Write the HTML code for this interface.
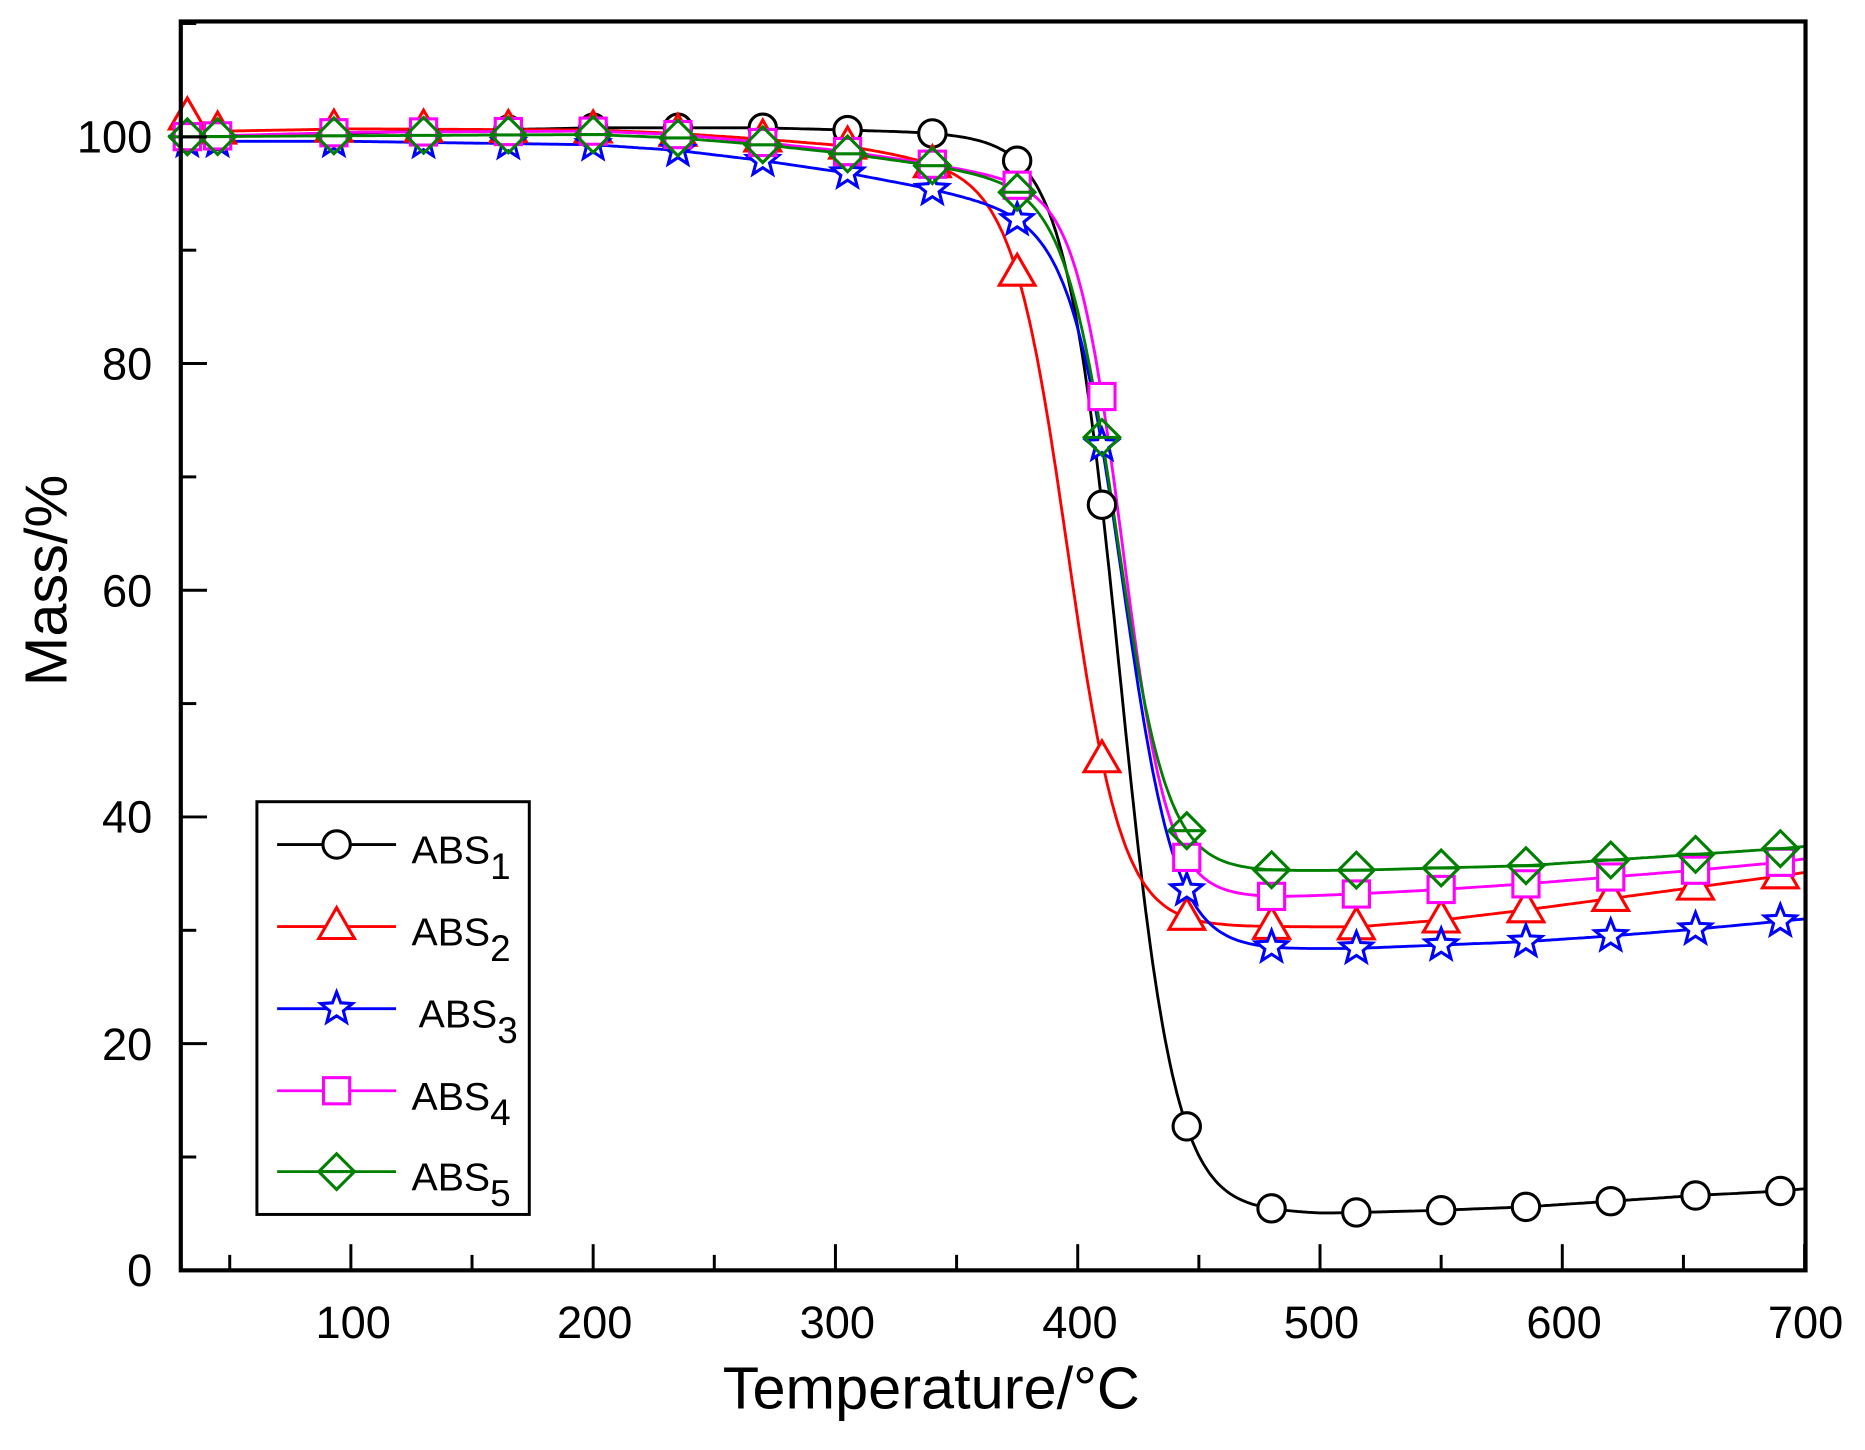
<!DOCTYPE html>
<html><head><meta charset="utf-8"><style>
html,body{margin:0;padding:0;background:#fff;}
svg{display:block;}
text{font-family:"Liberation Sans",Arial,sans-serif;}
</style></head><body>
<svg id="s" width="1865" height="1450" viewBox="0 0 1568 1219" xmlns="http://www.w3.org/2000/svg">
<rect width="1568" height="1219" fill="#fff"/>
<g id="plot"></g>
<g id="axes" fill="none" stroke="#000" stroke-width="3.5"></g>
<g font-size="38" fill="#000">
<text x="128" y="128" text-anchor="end">100</text>
<text x="128" y="319" text-anchor="end">80</text>
<text x="128" y="510" text-anchor="end">60</text>
<text x="128" y="700" text-anchor="end">40</text>
<text x="128" y="891" text-anchor="end">20</text>
<text x="128" y="1081" text-anchor="end">0</text>
<text x="297" y="1125" text-anchor="middle">100</text>
<text x="500" y="1125" text-anchor="middle">200</text>
<text x="704" y="1125" text-anchor="middle">300</text>
<text x="908" y="1125" text-anchor="middle">400</text>
<text x="1111" y="1125" text-anchor="middle">500</text>
<text x="1315" y="1125" text-anchor="middle">600</text>
<text x="1518" y="1125" text-anchor="middle">700</text>
</g>
<text x="783" y="1184" font-size="50" text-anchor="middle">Temperature/°C</text>
<text transform="translate(56,488) rotate(-90)" font-size="50" text-anchor="middle">Mass/%</text>
<g id="legend"></g>
</svg>
<script>
var NS="http://www.w3.org/2000/svg";
function X(t){return 295+(t-100)*2.037;}
function Y(m){return 1068-9.53*m;}
function el(p,n,a){var e=document.createElementNS(NS,n);for(var k in a)e.setAttribute(k,a[k]);p.appendChild(e);return e;}
function interp(tab,t){if(t<=tab[0][0])return tab[0][1];for(var i=1;i<tab.length;i++){if(t<=tab[i][0]){var a=tab[i-1],b=tab[i];return a[1]+(b[1]-a[1])*(t-a[0])/(b[0]-a[0]);}}var a=tab[tab.length-2],b=tab[tab.length-1];return b[1]+(b[1]-a[1])/(b[0]-a[0])*(t-b[0]);}
var series=[
{c:"#000",m:"circle",P:[[30,100],[200,100.8],[270,100.8],[305,100.6],[340,100.4],[380,100]],R:[[480,5.1],[500,5],[550,5.3],[585,5.6],[620,6.1],[655,6.6],[690,7.0],[700,7.2]],t0:417.5,w:11.3},
{c:"#f00",m:"tri",P:[[30,102],[45,100.5],[100,100.7],[200,100.6],[235,100.3],[270,99.8],[305,99.2],[340,98],[380,96.8]],R:[[480,30.3],[515,30.3],[550,30.9],[585,31.8],[620,32.8],[655,33.8],[690,34.8],[700,35.1]],t0:396,w:11.3},
{c:"#00f",m:"star",P:[[30,99.6],[100,99.6],[200,99.3],[235,98.8],[270,97.9],[305,96.8],[340,95.4],[380,93.6]],R:[[480,28.3],[515,28.4],[550,28.7],[585,29],[620,29.5],[655,30.1],[690,30.8],[700,31]],t0:419,w:10.9},
{c:"#f0f",m:"sq",P:[[30,100],[100,100.4],[200,100.5],[235,100.2],[270,99.5],[305,98.7],[340,97.6],[380,96.2]],R:[[480,32.9],[515,33.2],[550,33.6],[585,34.1],[620,34.7],[655,35.3],[690,36],[700,36.3]],t0:418.5,w:9.5},
{c:"#008000",m:"dia",P:[[30,100],[100,100.1],[200,100.2],[235,99.9],[270,99.3],[305,98.5],[340,97.5],[380,96.2]],R:[[480,35.2],[515,35.3],[550,35.5],[585,35.7],[620,36.2],[655,36.7],[690,37.2],[700,37.4]],t0:416,w:10.6}
];
function val(s,t){var P=interp(s.P,t),R=interp(s.R,t);var f=1/(1+Math.exp((t-s.t0)/s.w));return R+(P-R)*f;}
function marker(g,type,x,y,c){
 var a={stroke:c,"stroke-width":2.6};
 if(type=="circle"){a.fill="#fff";a.cx=x;a.cy=y;a.r=11.5;el(g,"circle",a);}
 else if(type=="tri"){a.fill="#fff";a.points=(x-15)+","+(y+10)+" "+x+","+(y-16)+" "+(x+15)+","+(y+10);el(g,"polygon",a);}
 else if(type=="sq"){a.fill="#fff";a.x=x-11;a.y=y-11;a.width=22;a.height=22;el(g,"rect",a);}
 else if(type=="dia"){a.fill="none";a.points=(x-15)+","+y+" "+x+","+(y-15)+" "+(x+15)+","+y+" "+x+","+(y+15);el(g,"polygon",a);el(g,"line",{x1:x-15,y1:y,x2:x+15,y2:y,stroke:c,"stroke-width":2.6});}
 else if(type=="star"){a.fill="#fff";var p=[];for(var i=0;i<10;i++){var r=i%2?6:14,an=-Math.PI/2+i*Math.PI/5;p.push((x+r*Math.cos(an)).toFixed(1)+","+(y+r*Math.sin(an)).toFixed(1));}a.points=p.join(" ");el(g,"polygon",a);}
}
var plot=document.getElementById("plot");
var mts=[32.5,45,93,130,165,200,235,270,305,340,375,410,445,480,515,550,585,620,655,690];
series.forEach(function(s){
 var d="";for(var t=30;t<=700;t+=1){d+=(t==30?"M":"L")+X(t).toFixed(1)+","+Y(val(s,t)).toFixed(1);}
 el(plot,"path",{d:d,fill:"none",stroke:s.c,"stroke-width":2.4});
});
series.forEach(function(s){
 var g=el(plot,"g",{});
 mts.forEach(function(t){marker(g,s.m,X(t),Y(val(s,t)),s.c);});
});
var ax=document.getElementById("axes");
el(ax,"rect",{x:152,y:18,width:1366,height:1050});
for(var t=50;t<=700;t+=50){var x=X(t);var L=(t%100==0)?22:13;el(ax,"line",{x1:x,y1:1068,x2:x,y2:1068-L,"stroke-width":2.5});}
for(var m=0;m<=110;m+=10){var y=Y(m);var L=(m%20==0)?22:13;el(ax,"line",{x1:152,y1:y,x2:152+L,y2:y,"stroke-width":2.5});}
var lg=document.getElementById("legend");
el(lg,"rect",{x:216,y:674,width:229,height:347,fill:"#fff",stroke:"#000","stroke-width":2.5});
var ly=[710,779,848,917,985],subs=["1","2","3","4","5"],tx=[346,346,352,346,346];
series.forEach(function(s,i){
 el(lg,"line",{x1:233,y1:ly[i],x2:333,y2:ly[i],stroke:s.c,"stroke-width":2.4});
 marker(lg,s.m,283,ly[i],s.c);
 var t=el(lg,"text",{x:tx[i],y:ly[i]+16,"font-size":33});
 t.textContent="ABS";
 var ts=el(t,"tspan",{dy:13,"font-size":31});ts.textContent=subs[i];
});
</script>
</body></html>
